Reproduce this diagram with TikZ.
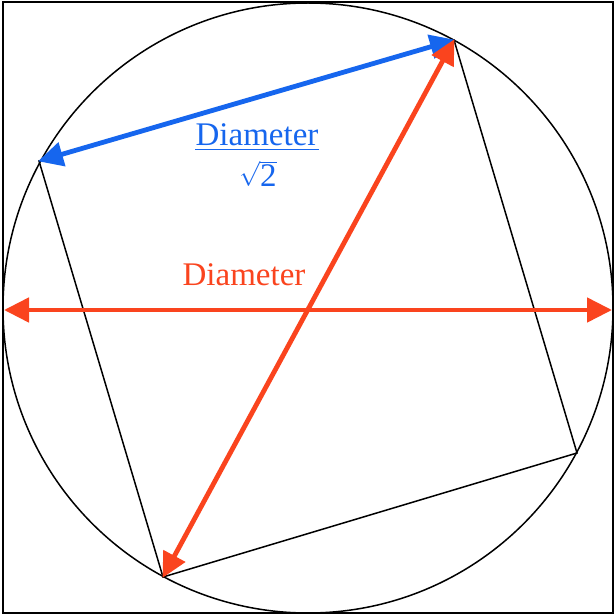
\documentclass[tikz,border=0pt]{standalone}
\usepackage{amsmath}
\usepackage{fontspec}
\setmainfont{Liberation Serif}
\usetikzlibrary{arrows.meta}
\definecolor{dred}{RGB}{250,68,30}
\definecolor{dblue}{RGB}{22,102,238}
\tikzset{
  thinline/.style={black,line width=1.5pt},
  redarrow/.style={dred,line width=4.8pt,{Triangle[length=25pt,width=24pt]}-{Triangle[length=25pt,width=24pt]},shorten <=-1pt,shorten >=-1pt},
  bluearrow/.style={dblue,line width=4.8pt,{Triangle[length=25pt,width=24pt]}-{Triangle[length=25pt,width=24pt]},shorten <=-1pt,shorten >=-1pt},
  lbl/.style={inner sep=0pt,anchor=base,font=\fontsize{33}{38}\selectfont}
}
\begin{document}
\begin{tikzpicture}[x=1pt,y=-1pt]
\useasboundingbox (0,0) rectangle (616,615);
\fill[white] (0,0) rectangle (616,615);
\coordinate (O) at (308,308);
\coordinate (A) at (454,40);
\coordinate (B) at (39,161);
\coordinate (C) at (163,577);
\coordinate (D) at (577,453);
\coordinate (L) at (5,310);
\coordinate (R) at (611,310);
\draw[black,line width=2.6pt] (3,2) rectangle (613,613);
\draw[thinline] (O) circle[radius=305pt];
\draw[thinline,line join=miter] (A) -- (B) -- (C) -- (D) -- cycle;
\draw[bluearrow] (B) -- (A);
\draw[redarrow] (L) -- (R);
\draw[redarrow] (C) -- (A);
\node[lbl,text=dred] (d1) at (244,285) {Diameter};
\node[lbl,text=dblue] (num) at (257,146) {Diameter};
\coordinate (barL) at (195,149.5);
\coordinate (barR) at (319,149.5);
\draw[dblue,line width=1.8pt] (barL) -- (barR);
\node[lbl,text=dblue] (den) at (258,186) {$\sqrt{\text{2}}$};
\end{tikzpicture}
\end{document}
